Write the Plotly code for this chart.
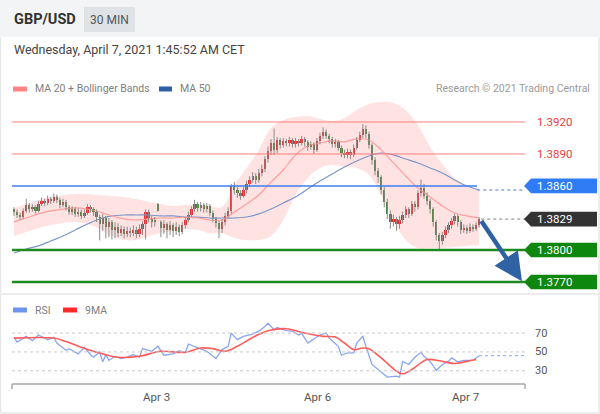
import plotly.graph_objects as go

# ---------------- DATA ----------------
OPEN = [1.3838,1.3836,1.3833,1.3831,1.3837,1.3842,1.3838,1.3840,1.3837,1.3843,
        1.3846,1.3844,1.3848,1.3846,1.3850,1.3847,1.3842,1.3845,1.3840,1.3836,
        1.3838,1.3834,1.3836,1.3832,1.3835,1.3840,1.3838,1.3836,1.3831,1.3824,
        1.3830,1.3822,1.3826,1.3819,1.3822,1.3816,1.3820,1.3815,1.3818,1.3816,
        1.3819,1.3815,1.3820,1.3824,1.3836,1.3830,1.3826,1.3843,1.3826,1.3821,
        1.3824,1.3819,1.3823,1.3818,1.3822,1.3817,1.3823,1.3828,1.3833,1.3838,
        1.3843,1.3839,1.3842,1.3838,1.3841,1.3835,1.3829,1.3825,1.3820,1.3826,
        1.3832,1.3837,1.3860,1.3856,1.3853,1.3851,1.3856,1.3862,1.3866,1.3869,
        1.3866,1.3872,1.3876,1.3885,1.3893,1.3900,1.3894,1.3903,1.3898,1.3902,
        1.3900,1.3903,1.3899,1.3902,1.3900,1.3904,1.3901,1.3897,1.3899,1.3894,
        1.3902,1.3907,1.3911,1.3907,1.3904,1.3899,1.3901,1.3896,1.3891,1.3889,
        1.3892,1.3889,1.3896,1.3903,1.3908,1.3913,1.3909,1.3898,1.3884,1.3874,
        1.3868,1.3856,1.3845,1.3834,1.3826,1.3829,1.3824,1.3828,1.3833,1.3838,
        1.3834,1.3843,1.3840,1.3853,1.3858,1.3851,1.3846,1.3838,1.3826,1.3814,
        1.3808,1.3814,1.3819,1.3823,1.3827,1.3832,1.3826,1.3819,1.3821,1.3818,
        1.3822,1.3820,1.3823]
CLOSE = [1.3836,1.3833,1.3831,1.3837,1.3842,1.3838,1.3840,1.3837,1.3843,1.3846,
         1.3844,1.3848,1.3846,1.3850,1.3847,1.3842,1.3845,1.3840,1.3836,1.3838,
         1.3834,1.3836,1.3832,1.3835,1.3840,1.3838,1.3836,1.3831,1.3824,1.3830,
         1.3822,1.3826,1.3819,1.3822,1.3816,1.3820,1.3815,1.3818,1.3816,1.3819,
         1.3815,1.3820,1.3824,1.3836,1.3830,1.3826,1.3828,1.3837,1.3821,1.3824,
         1.3819,1.3823,1.3818,1.3822,1.3817,1.3823,1.3828,1.3833,1.3838,1.3843,
         1.3839,1.3842,1.3838,1.3841,1.3835,1.3829,1.3825,1.3820,1.3826,1.3832,
         1.3837,1.3860,1.3856,1.3853,1.3851,1.3856,1.3862,1.3866,1.3869,1.3866,
         1.3872,1.3876,1.3885,1.3893,1.3900,1.3894,1.3903,1.3898,1.3902,1.3900,
         1.3903,1.3899,1.3902,1.3900,1.3904,1.3901,1.3897,1.3899,1.3894,1.3902,
         1.3907,1.3911,1.3907,1.3904,1.3899,1.3901,1.3896,1.3891,1.3889,1.3892,
         1.3889,1.3896,1.3903,1.3908,1.3913,1.3909,1.3898,1.3884,1.3874,1.3868,
         1.3856,1.3845,1.3834,1.3826,1.3829,1.3824,1.3828,1.3833,1.3838,1.3834,
         1.3843,1.3840,1.3853,1.3858,1.3851,1.3846,1.3838,1.3826,1.3814,1.3808,
         1.3814,1.3819,1.3823,1.3827,1.3832,1.3826,1.3819,1.3821,1.3818,1.3822,
         1.3820,1.3823,1.3829]
HIGH = [1.3840,1.3838,1.3835,1.3839,1.3848,1.3844,1.3843,1.3842,1.3846,1.3849,
        1.3848,1.3851,1.3850,1.3853,1.3852,1.3849,1.3848,1.3847,1.3842,1.3841,
        1.3840,1.3839,1.3838,1.3838,1.3843,1.3842,1.3840,1.3838,1.3833,1.3834,
        1.3832,1.3830,1.3828,1.3826,1.3825,1.3823,1.3822,1.3822,1.3821,1.3823,
        1.3822,1.3824,1.3827,1.3838,1.3838,1.3832,1.3831,1.3844,1.3828,1.3828,
        1.3826,1.3827,1.3825,1.3826,1.3824,1.3826,1.3831,1.3836,1.3841,1.3847,
        1.3845,1.3845,1.3844,1.3844,1.3843,1.3837,1.3831,1.3827,1.3829,1.3835,
        1.3840,1.3862,1.3864,1.3859,1.3856,1.3859,1.3865,1.3869,1.3873,1.3872,
        1.3876,1.3880,1.3888,1.3897,1.3904,1.3914,1.3906,1.3905,1.3905,1.3904,
        1.3906,1.3905,1.3905,1.3904,1.3907,1.3906,1.3903,1.3902,1.3901,1.3905,
        1.3910,1.3915,1.3913,1.3909,1.3906,1.3904,1.3903,1.3898,1.3894,1.3895,
        1.3894,1.3899,1.3906,1.3911,1.3918,1.3917,1.3911,1.3900,1.3887,1.3877,
        1.3870,1.3859,1.3848,1.3837,1.3833,1.3831,1.3832,1.3836,1.3841,1.3840,
        1.3846,1.3846,1.3856,1.3866,1.3862,1.3854,1.3848,1.3840,1.3828,1.3816,
        1.3817,1.3822,1.3826,1.3830,1.3834,1.3833,1.3828,1.3824,1.3823,1.3825,
        1.3824,1.3826,1.3831]
LOW = [1.3832,1.3830,1.3828,1.3829,1.3835,1.3835,1.3836,1.3834,1.3835,1.3841,
       1.3841,1.3842,1.3843,1.3844,1.3844,1.3839,1.3840,1.3837,1.3833,1.3833,
       1.3831,1.3831,1.3829,1.3830,1.3833,1.3835,1.3832,1.3826,1.3809,1.3818,
       1.3811,1.3812,1.3810,1.3811,1.3812,1.3813,1.3811,1.3812,1.3812,1.3813,
       1.3811,1.3812,1.3814,1.3810,1.3826,1.3821,1.3822,1.3836,1.3812,1.3815,
       1.3811,1.3814,1.3812,1.3814,1.3813,1.3815,1.3820,1.3826,1.3831,1.3836,
       1.3836,1.3836,1.3835,1.3835,1.3832,1.3826,1.3821,1.3811,1.3816,1.3823,
       1.3830,1.3834,1.3852,1.3849,1.3847,1.3849,1.3853,1.3859,1.3863,1.3862,
       1.3863,1.3869,1.3873,1.3882,1.3889,1.3889,1.3891,1.3895,1.3896,1.3897,
       1.3897,1.3896,1.3896,1.3897,1.3898,1.3897,1.3893,1.3894,1.3890,1.3892,
       1.3899,1.3904,1.3904,1.3900,1.3896,1.3896,1.3893,1.3887,1.3886,1.3886,
       1.3885,1.3887,1.3894,1.3901,1.3905,1.3905,1.3895,1.3880,1.3870,1.3863,
       1.3852,1.3840,1.3829,1.3820,1.3822,1.3818,1.3820,1.3825,1.3830,1.3830,
       1.3832,1.3836,1.3838,1.3850,1.3848,1.3842,1.3834,1.3822,1.3809,1.3801,
       1.3805,1.3811,1.3816,1.3820,1.3824,1.3822,1.3815,1.3816,1.3815,1.3816,
       1.3817,1.3818,1.3821]

# moving averages / Bollinger bands, read every 4th candle
MA_IDX = list(range(0, 153, 4))
MA20 = [1.38263,1.38300,1.38338,1.38366,1.38384,1.38394,1.38384,1.38356,1.38319,1.38291,
        1.38281,1.38291,1.38300,1.38300,1.38309,1.38300,1.38281,1.38281,1.38356,1.38431,
        1.38516,1.38638,1.38750,1.38891,1.38975,1.39003,1.39022,1.39013,1.39041,1.39031,
        1.38938,1.38816,1.38694,1.38581,1.38497,1.38413,1.38347,1.38319,1.38300]
BB_UPPER = [1.38394,1.38431,1.38469,1.38497,1.38516,1.38525,1.38525,1.38516,1.38506,1.38497,
            1.38478,1.38450,1.38431,1.38413,1.38422,1.38422,1.38413,1.38403,1.38609,1.38769,
            1.38938,1.39144,1.39219,1.39247,1.39256,1.39228,1.39209,1.39238,1.39313,1.39369,
            1.39388,1.39378,1.39313,1.39172,1.38966,1.38806,1.38675,1.38600,1.38563]
BB_LOWER = [1.38131,1.38169,1.38206,1.38234,1.38253,1.38263,1.38244,1.38197,1.38131,1.38094,
            1.38094,1.38131,1.38159,1.38178,1.38197,1.38188,1.38159,1.38159,1.38113,1.38094,
            1.38094,1.38131,1.38281,1.38516,1.38675,1.38769,1.38797,1.38778,1.38769,1.38703,
            1.38516,1.38281,1.38094,1.38019,1.38019,1.38019,1.38028,1.38038,1.38047]
MA50 = [1.37972,1.38009,1.38038,1.38084,1.38131,1.38188,1.38244,1.38291,1.38319,1.38328,
        1.38328,1.38328,1.38319,1.38319,1.38309,1.38309,1.38300,1.38300,1.38300,1.38309,
        1.38338,1.38384,1.38441,1.38497,1.38572,1.38647,1.38713,1.38778,1.38834,1.38881,
        1.38909,1.38891,1.38853,1.38816,1.38769,1.38722,1.38656,1.38600,1.38563]

RSI_IDX = [0,1,4,6,8,11,13,14,17,18,21,23,25,26,28,29,30,31,33,35,37,39,41,42,45,47,49,52,
           54,56,57,60,63,66,68,70,71,73,75,78,80,82,83,85,86,89,91,93,94,96,98,100,102,103,
           106,107,109,111,112,114,115,117,119,121,122,125,126,127,129,131,133,134,136,138,
           140,142,143,145,147,150,152]
RSI = [65.8,60.5,66.5,62,68,63,65.4,59.5,51.7,53.5,48,55,47,44.4,50,39.5,47,41,45.4,43,44.4,
       47,44.4,53.5,50.7,56,46.5,48,51.4,49,58.4,54.2,50.7,43,52.5,56,70,63,66.5,69,72,77,
       80.5,73.5,76,72.5,72,68,70,59.5,64,68,70,64.7,56,46.5,49,49,59.5,66.5,56,36.7,31.4,
       26,23.3,24.3,23.3,40,36.7,44.4,49.6,45.4,40,30.3,36.7,40,43.7,39.5,41,41,46]
RSI_MA_IDX = [0,13,17,24,30,34,41,48,56,61,65,69,73,78,81,83,89,95,101,105,108,111,114,116,
              120,125,127,130,133,135,140,144,148,151]
RSI_MA = [64.7,64.7,61,52.5,47,44.4,45.4,50.7,49.6,54.2,53.5,50.7,56,65.4,70,72.5,74.6,70,
          66.5,65.8,59.5,52.5,54.2,53.5,43.7,29.6,26.8,31.4,38.4,42,40,37.7,40,42]

LEVELS_RED = [1.3920, 1.3890]
LEVEL_BLUE = 1.3860
LEVELS_GREEN = [1.3800, 1.3770]
TICK_IDX = [46.7, 99.3, 147.4]
TICK_TEXT = ["Apr 3", "Apr 6", "Apr 7"]
RSI_GRID = [70, 50, 30]
TARGET = 1.3770

# ---------------- FIGURE ----------------
W, H = 600, 414
def fx(p):
    return p / W
def fy(p):
    return (H - p) / H

XR = [-0.654, 167.0]
FONT = "Roboto, Arial, sans-serif"
N = len(CLOSE)
idx = list(range(N))

fig = go.Figure()
# Bollinger band
fig.add_trace(go.Scatter(x=MA_IDX, y=BB_UPPER, mode="lines", line=dict(width=0, shape="spline"),
                         hoverinfo="skip"))
fig.add_trace(go.Scatter(x=MA_IDX, y=BB_LOWER, mode="lines", line=dict(width=0, shape="spline"),
                         fill="tonexty", fillcolor="rgba(255,90,90,0.17)", hoverinfo="skip"))
fig.add_trace(go.Scatter(x=MA_IDX, y=MA50, mode="lines",
                         line=dict(color="#7a96c9", width=1.2, shape="spline")))
fig.add_trace(go.Scatter(x=MA_IDX, y=MA20, mode="lines",
                         line=dict(color="#ff9d9d", width=1.2, shape="spline")))

# wicks
wx, wy = [], []
for i, (h, l) in enumerate(zip(HIGH, LOW)):
    wx += [i, i, None]
    wy += [l, h, None]
fig.add_trace(go.Scatter(x=wx, y=wy, mode="lines", line=dict(color="#8a8a8a", width=1),
                         hoverinfo="skip"))
# bodies
base = [min(o, c) for o, c in zip(OPEN, CLOSE)]
hgt = [max(abs(c - o), 0.00005) for o, c in zip(OPEN, CLOSE)]
cols = ["#e3262b" if c >= o else "#2e8a35" for o, c in zip(OPEN, CLOSE)]
fig.add_trace(go.Bar(x=idx, y=hgt, base=base, width=0.75,
                     marker=dict(color=cols, line=dict(width=0))))

# RSI panel
fig.add_trace(go.Scatter(x=RSI_IDX, y=RSI, mode="lines", xaxis="x2", yaxis="y2",
                         line=dict(color="#8aa6f0", width=1.3)))
fig.add_trace(go.Scatter(x=RSI_MA_IDX, y=RSI_MA, mode="lines", xaxis="x2", yaxis="y2",
                         line=dict(color="#ff5b5b", width=1.6, shape="spline")))

shapes = []
ann = []
# header band
shapes.append(dict(type="rect", xref="paper", yref="paper", x0=0, x1=1, y0=fy(37), y1=1,
                   fillcolor="#f3f4f6", line=dict(width=0), layer="below"))
shapes.append(dict(type="rect", xref="paper", yref="paper", x0=fx(84), x1=fx(135), y0=fy(32), y1=fy(7),
                   fillcolor="#dfe3e8", line=dict(width=0), layer="below"))
# borders / separators
for x in (0.5, 599):
    shapes.append(dict(type="line", xref="paper", yref="paper", x0=fx(x), x1=fx(x), y0=0, y1=fy(37),
                       line=dict(color="#e8e8e8", width=1.5)))
shapes.append(dict(type="line", xref="paper", yref="paper", x0=0, x1=1, y0=fy(294), y1=fy(294),
                   line=dict(color="#ececec", width=2)))
shapes.append(dict(type="line", xref="paper", yref="paper", x0=0, x1=1, y0=fy(413), y1=fy(413),
                   line=dict(color="#ececec", width=2)))

# level lines
for lv in LEVELS_RED:
    shapes.append(dict(type="line", xref="paper", yref="y", x0=0.02, x1=0.875, y0=lv, y1=lv,
                       line=dict(color="#ff7b7b", width=1)))
    ann.append(dict(x=fx(535), y=lv, xref="paper", yref="y", text=f"{lv:.4f}", showarrow=False,
                    xanchor="left", yanchor="middle", font=dict(family=FONT, size=11.5, color="#f03a3a")))
shapes.append(dict(type="line", xref="x", yref="y", x0=XR[0], x1=151.3, y0=LEVEL_BLUE, y1=LEVEL_BLUE,
                   line=dict(color="#3d7df0", width=1.5)))
shapes.append(dict(type="line", xref="x", yref="y", x0=MA_IDX[-1] - 0.6, x1=XR[1], y0=MA50[-1], y1=MA50[-1],
                   line=dict(color="#8aa6d8", width=1.5, dash="dot")))
shapes.append(dict(type="line", xref="x", yref="y", x0=N - 0.3, x1=XR[1], y0=CLOSE[-1], y1=CLOSE[-1],
                   line=dict(color="#999999", width=1.3, dash="dot")))
for lv in LEVELS_GREEN:
    shapes.append(dict(type="line", xref="paper", yref="y", x0=0.02, x1=0.875, y0=lv, y1=lv,
                       line=dict(color="#1f8a1f", width=2.6)))

# tags
hh = 0.00069
def tag(val, color):
    path = (f"M {fx(524)} {val} L {fx(531)} {val + hh} L {fx(597)} {val + hh} "
            f"L {fx(597)} {val - hh} L {fx(531)} {val - hh} Z")
    shapes.append(dict(type="path", xref="paper", yref="y", path=path, fillcolor=color,
                       line=dict(width=0)))
    ann.append(dict(x=fx(535), y=val, xref="paper", yref="y", text=f"{val:.4f}", showarrow=False,
                    xanchor="left", yanchor="middle", font=dict(family=FONT, size=11.5, color="white")))
tag(LEVEL_BLUE, "#2f7cf5")
tag(CLOSE[-1], "#333333")
for lv in LEVELS_GREEN:
    tag(lv, "#0e870e")

# arrow
ann.append(dict(x=166.0, y=TARGET + 0.00006, xref="x", yref="y", ax=N - 0.6, ay=CLOSE[-1] - 0.00004,
                axref="x", ayref="y", text="", showarrow=True, arrowhead=2, arrowsize=1.25,
                arrowwidth=4.5, arrowcolor="#2e62a3"))

# RSI grid & labels
for g in RSI_GRID:
    shapes.append(dict(type="line", xref="paper", yref="y2", x0=0.02, x1=0.875, y0=g, y1=g,
                       line=dict(color="#c8c8c8", width=1, dash="dot")))
    ann.append(dict(x=fx(533), y=g, xref="paper", yref="y2", text=str(g), showarrow=False,
                    xanchor="left", yanchor="middle", font=dict(family=FONT, size=11, color="#555")))
shapes.append(dict(type="line", xref="x2", yref="y2", x0=RSI_IDX[-1], x1=XR[1], y0=RSI[-1], y1=RSI[-1],
                   line=dict(color="#9db4f0", width=1.3, dash="dot")))
# RSI x axis line
shapes.append(dict(type="line", xref="paper", yref="paper", x0=fx(12), x1=fx(525), y0=fy(384), y1=fy(384),
                   line=dict(color="#a8a8a8", width=1.5)))
for x in (12, 525):
    shapes.append(dict(type="line", xref="paper", yref="paper", x0=fx(x), x1=fx(x), y0=fy(384), y1=fy(389),
                       line=dict(color="#a8a8a8", width=1.5)))
for t, s in zip(TICK_IDX, TICK_TEXT):
    ann.append(dict(x=t, y=fy(397), xref="x2", yref="paper", text=s, showarrow=False,
                    xanchor="center", yanchor="middle", font=dict(family=FONT, size=11.5, color="#555")))

# header texts
ann.append(dict(x=fx(12), y=fy(20), xref="paper", yref="paper", text="<b>GBP/USD</b>", showarrow=False,
                xanchor="left", yanchor="middle", font=dict(family=FONT, size=14.5, color="#333")))
ann.append(dict(x=fx(109.5), y=fy(20), xref="paper", yref="paper", text="30 MIN", showarrow=False,
                xanchor="center", yanchor="middle", font=dict(family=FONT, size=12, color="#555")))
ann.append(dict(x=fx(12), y=fy(50), xref="paper", yref="paper",
                text="Wednesday, April 7, 2021 1:45:52 AM CET", showarrow=False,
                xanchor="left", yanchor="middle", font=dict(family=FONT, size=12.5, color="#444")))

# legends
def swatch(x0, x1, y, color):
    shapes.append(dict(type="rect", xref="paper", yref="paper", x0=fx(x0), x1=fx(x1),
                       y0=fy(y + 2.5), y1=fy(y - 2.5), fillcolor=color, line=dict(width=0)))
def label(x, y, s, color="#808080", anchor="left"):
    ann.append(dict(x=fx(x), y=fy(y), xref="paper", yref="paper", text=s, showarrow=False,
                    xanchor=anchor, yanchor="middle", font=dict(family=FONT, size=10.5, color=color)))
swatch(13, 27, 89, "#ff8585")
label(33, 89, "MA 20 + Bollinger Bands")
swatch(159, 172, 89, "#2f5fa6")
label(178, 89, "MA 50")
label(592, 89, "Research © 2021 Trading Central", color="#9a9a9a", anchor="right")
swatch(13, 27, 310, "#6f94ee")
label(33, 310, "RSI")
swatch(63, 77, 310, "#ff2a2a")
label(83, 310, "9MA")

fig.update_layout(
    width=W, height=H, margin=dict(l=0, r=0, t=0, b=0),
    paper_bgcolor="white", plot_bgcolor="rgba(0,0,0,0)", showlegend=False, hovermode=False,
    font=dict(family=FONT),
    xaxis=dict(domain=[0.02, 0.875], range=XR, visible=False, fixedrange=True),
    yaxis=dict(domain=[fy(290), fy(100)], range=[1.37625, 1.39406], visible=False, fixedrange=True),
    xaxis2=dict(domain=[0.02, 0.875], range=XR, visible=False, anchor="y2", fixedrange=True),
    yaxis2=dict(domain=[fy(384), fy(318)], range=[16, 86], visible=False, anchor="x2", fixedrange=True),
    shapes=shapes, annotations=ann, bargap=0,
)
fig.write_html("out.html", config=dict(displayModeBar=False),
               post_script="document.body.style.margin='0';document.body.style.overflow='hidden';")
